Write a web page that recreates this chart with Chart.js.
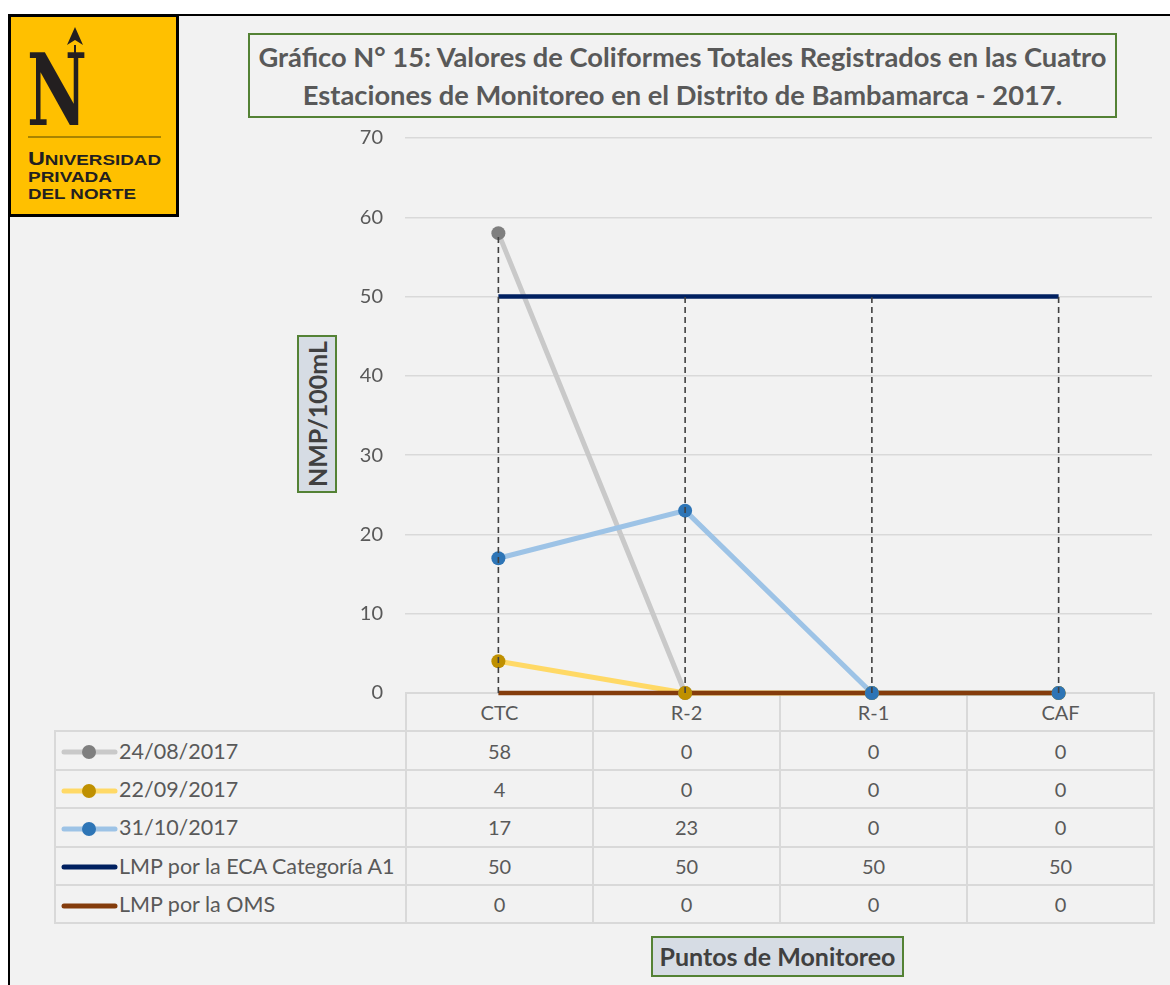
<!DOCTYPE html>
<html>
<head>
<meta charset="utf-8">
<script src="https://cdn.jsdelivr.net/npm/chart.js@4.4.0/dist/chart.umd.min.js"></script>
<style>
  html, body { margin: 0; padding: 0; background: #fff; }
  #page { position: relative; width: 1170px; height: 985px; overflow: hidden; background: #fff; font-family: Lato, 'Open Sans', sans-serif; }
  #fondo { position: absolute; left: 8px; top: 14px; width: 1170px; height: 980px; background: #f2f2f2; border-left: 2px solid #000; border-top: 2px solid #000; }
  #grafico { position: absolute; left: 0; top: 0; z-index: 3; }
  #logo { position: absolute; left: 8px; top: 14px; width: 171px; height: 203px; box-sizing: border-box; background: #ffc000; border: 3px solid #000; z-index: 5; }
  #titulo { position: absolute; left: 248px; top: 33px; width: 869px; height: 85px; box-sizing: border-box; border: 2px solid #548235; background: #f2f2f2; color: #595959; font-weight: bold; font-size: 27.3px; line-height: 38px; text-align: center; padding-top: 3px; z-index: 4; white-space: nowrap; }
  #ejeY { position: absolute; left: 297px; top: 335px; width: 40px; height: 158px; box-sizing: border-box; border: 2px solid #548235; background: #d6dce4; z-index: 4; }
  #ejeY span { position: absolute; left: 50%; top: 50%; transform: translate(-50%, -50%) rotate(-90deg); white-space: nowrap; font-weight: bold; font-size: 25px; color: #404040; }
  #ejeX { position: absolute; left: 651px; top: 936px; width: 253px; height: 41px; box-sizing: border-box; border: 2px solid #548235; background: #d6dce4; color: #404040; font-weight: bold; font-size: 25px; line-height: 37px; text-align: center; z-index: 4; }
  #tabla { position: absolute; left: 54px; top: 692px; border-collapse: collapse; table-layout: fixed; z-index: 2; color: #595959; font-size: 20px; }
  #tabla td { border: 2px solid #d9d9d9; height: 36.4px; padding: 0; text-align: center; white-space: nowrap; overflow: hidden; }
  #tabla td.serie { text-align: left; padding-left: 4px; font-size: 21.5px; }
  #tabla td.vacio { border-top: none; border-left: none; }
  #tabla svg { vertical-align: middle; margin-right: 1px; position: relative; top: -1px; }
</style>
</head>
<body>
<div id="page">
  <div id="fondo"></div>
  <div id="logo">
    <svg width="165" height="197" viewBox="0 0 165 197">
      <polygon points="64,10 56,28 64,23 72,28" fill="#231f20"/>
      <line x1="64" y1="28" x2="64" y2="38" stroke="#231f20" stroke-width="2"/>
      <text x="16" y="108" font-family="DejaVu Serif" font-weight="bold" font-size="100" fill="#231f20" textLength="60" lengthAdjust="spacingAndGlyphs">N</text>
      <line x1="17" y1="120" x2="150" y2="120" stroke="#8c7000" stroke-width="1.5"/>
      <text x="17" y="148" font-family="Liberation Sans" font-weight="bold" font-size="18" fill="#231f20" textLength="133" lengthAdjust="spacingAndGlyphs">U<tspan font-size="14.5">NIVERSIDAD</tspan></text>
      <text x="17" y="165" font-family="Liberation Sans" font-weight="bold" font-size="14.5" fill="#231f20" textLength="84" lengthAdjust="spacingAndGlyphs">PRIVADA</text>
      <text x="17" y="182" font-family="Liberation Sans" font-weight="bold" font-size="14.5" fill="#231f20" textLength="108" lengthAdjust="spacingAndGlyphs">DEL NORTE</text>
    </svg>
  </div>
  <div id="titulo">Gráfico N° 15: Valores de Coliformes Totales Registrados en las Cuatro<br>Estaciones de Monitoreo en el Distrito de Bambamarca - 2017.</div>
  <div id="ejeY"><span>NMP/100mL</span></div>
  <div id="ejeX">Puntos de Monitoreo</div>
  <table id="tabla"></table>
  <canvas id="grafico" width="1170" height="985"></canvas>
</div>
<script>
// datos
const puntos = ['CTC', 'R-2', 'R-1', 'CAF'];
const nombresSeries = ['24/08/2017', '22/09/2017', '31/10/2017', 'LMP por la ECA Categoría A1', 'LMP por la OMS'];
const muestreo1 = [58, 0, 0, 0];
const muestreo2 = [4, 0, 0, 0];
const muestreo3 = [17, 23, 0, 0];
const lmpEca = [50, 50, 50, 50];
const lmpOms = [0, 0, 0, 0];
const ticksY = [0, 10, 20, 30, 40, 50, 60, 70];

const valores = [muestreo1, muestreo2, muestreo3, lmpEca, lmpOms];
const colorLinea = ['#c9c9c9', '#ffd966', '#9dc3e6', '#002060', '#843c0c'];
const colorPunto = ['#7f7f7f', '#bf9000', '#2e75b6', null, null];

// tabla de datos debajo del grafico
function armarTabla() {
    const tabla = document.getElementById('tabla');
    let html = '<colgroup><col style="width:351px">';
    for (let i = 0; i < puntos.length; i++) html += '<col style="width:187px">';
    html += '</colgroup><tr><td class="vacio"></td>';
    for (let i = 0; i < puntos.length; i++) html += '<td>' + puntos[i] + '</td>';
    html += '</tr>';
    for (let s = 0; s < nombresSeries.length; s++) {
        let clave = '<svg width="58" height="16"><line x1="4" y1="8" x2="55" y2="8" stroke="' + colorLinea[s] + '" stroke-width="5" stroke-linecap="round"/>';
        if (colorPunto[s]) clave += '<circle cx="29" cy="8" r="7" fill="' + colorPunto[s] + '"/>';
        clave += '</svg>';
        html += '<tr><td class="serie">' + clave + nombresSeries[s] + '</td>';
        for (let i = 0; i < puntos.length; i++) html += '<td>' + valores[s][i] + '</td>';
        html += '</tr>';
    }
    tabla.innerHTML = html;
}
armarTabla();

// lineas de proyeccion discontinuas
const lineasProyeccion = {
    id: 'lineasProyeccion',
    afterDatasetsDraw(chart) {
        const ctx = chart.ctx;
        const x = chart.scales.x;
        const y = chart.scales.y;
        ctx.save();
        ctx.strokeStyle = '#404040';
        ctx.lineWidth = 1.6;
        ctx.setLineDash([6, 4]);
        for (let i = 0; i < puntos.length; i++) {
            let maximo = 0;
            for (let s = 0; s < valores.length; s++) maximo = Math.max(maximo, valores[s][i]);
            const px = x.getPixelForValue(i);
            ctx.beginPath();
            ctx.moveTo(px, y.getPixelForValue(0));
            ctx.lineTo(px, y.getPixelForValue(maximo));
            ctx.stroke();
        }
        ctx.restore();
    }
};

// primero las lineas (la ultima serie queda encima), luego los marcadores
const datasets = [];
for (let s = 0; s < nombresSeries.length; s++) {
    datasets.push({
        label: nombresSeries[s],
        data: valores[s],
        borderColor: colorLinea[s],
        backgroundColor: colorLinea[s],
        borderWidth: s < 3 ? 5 : 4.5,
        pointRadius: 0,
        pointHoverRadius: 0,
        tension: 0,
        clip: false,
        order: 20 - s
    });
}
for (let s = 0; s < nombresSeries.length; s++) {
    if (!colorPunto[s]) continue;
    datasets.push({
        label: nombresSeries[s] + ' marcador',
        data: valores[s],
        showLine: false,
        pointRadius: 7,
        pointHoverRadius: 7,
        pointBorderWidth: 0,
        pointBackgroundColor: colorPunto[s],
        backgroundColor: colorPunto[s],
        borderColor: colorPunto[s],
        clip: false,
        order: 10 - s
    });
}

Chart.defaults.font.family = 'Lato';
const ctx = document.getElementById('grafico').getContext('2d');
const grafico = new Chart(ctx, {
    type: 'line',
    data: { labels: puntos, datasets: datasets },
    plugins: [lineasProyeccion],
    options: {
        responsive: false,
        animation: false,
        layout: { padding: { left: 345, right: 18, top: 138, bottom: 292 } },
        plugins: { legend: { display: false }, tooltip: { enabled: false } },
        scales: {
            x: {
                display: false,
                offset: true,
                grid: { display: false }
            },
            y: {
                min: 0,
                max: 70,
                afterFit: function (s) { s.width = 60; },
                afterBuildTicks: function (s) { s.ticks = ticksY.map(v => ({ value: v })); },
                border: { display: false },
                grid: { color: '#d9d9d9', lineWidth: 1.5, drawTicks: false },
                ticks: { color: '#595959', font: { size: 20 }, padding: 22 }
            }
        }
    }
});
</script>
</body>
</html>
